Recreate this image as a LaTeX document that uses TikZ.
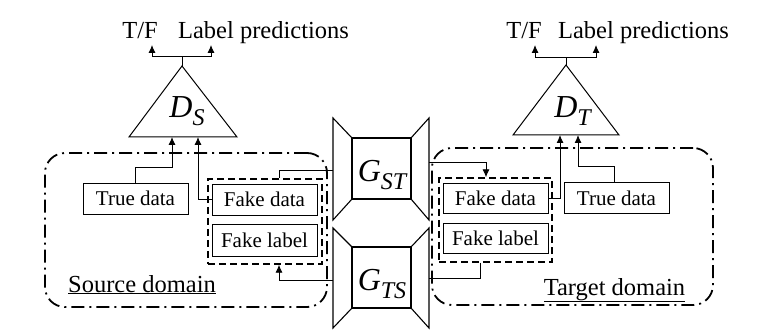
\documentclass[tikz,border=0pt]{standalone}
\usepackage{fontspec}
\setmainfont{Liberation Serif}
\usetikzlibrary{arrows.meta,calc}
\newcommand{\netlabel}[2]{{\fontsize{32}{32}\selectfont\itshape #1\raisebox{-8pt}{\fontsize{24}{24}\selectfont #2}}}
\begin{document}
\begin{tikzpicture}[x=1pt,y=-1pt,
  conn/.style={line width=0.9pt},
  arr/.style={conn,-{Latex[length=8pt,width=7pt]}},
  databox/.style={draw,line width=0.8pt,minimum width=105pt,minimum height=31pt,inner sep=0pt,font=\fontsize{21}{21}\selectfont},
  fakegroup/.style={draw,line width=1.4pt,dash pattern=on 7pt off 4pt,inner sep=0pt},
  domainbox/.style={draw,line width=1.8pt,dash pattern=on 13pt off 5pt on 2pt off 5pt,rounded corners=20pt,inner sep=0pt},
  lbl/.style={inner sep=0pt,anchor=base,font=\fontsize{24.5}{24.5}\selectfont},
  netshape/.style={line width=1.1pt},
  tri/.style={line width=1pt}
]
\useasboundingbox (0,0) rectangle (763,331);

% domains
\node[domainbox,minimum width=282pt,minimum height=154pt] (srcdom) at (186,230) {};
\node[domainbox,minimum width=281pt,minimum height=157pt] (tgtdom) at (572.5,226.5) {};
\node[lbl] (srclbl) at (142,292) {\underline{Source domain}};
\node[lbl] (tgtlbl) at (614.5,295) {\underline{Target domain}};

% discriminator D_S
\coordinate (dsapex) at (182,66);
\coordinate (dsbl) at (129,137);
\coordinate (dsbr) at (237,137);
\draw[tri] (dsbl) -- (dsapex) -- (dsbr) -- cycle;
\node[inner sep=0pt,anchor=base] (dsl) at (187,118) {\netlabel{D}{S}};
\coordinate (dsin1) at (172,137);
\coordinate (dsin2) at (198,137);
\coordinate (dsbar) at (182,56);
\coordinate (dsout1) at (152,45);
\coordinate (dsout2) at (211,45);
\node[lbl] (tfs) at (140,39) {T/F};
\node[lbl] (lps) at (263.5,39) {Label predictions};
\draw[conn] (dsapex) -- (dsbar);
\draw[arr] (dsbar) -| (dsout1);
\draw[arr] (dsbar) -| (dsout2);

% discriminator D_T
\coordinate (dtapex) at (566,65);
\coordinate (dtbl) at (513,135);
\coordinate (dtbr) at (619,135);
\draw[tri] (dtbl) -- (dtapex) -- (dtbr) -- cycle;
\node[inner sep=0pt,anchor=base] (dtl) at (572.5,118) {\netlabel{D}{T}};
\coordinate (dtin1) at (560,135);
\coordinate (dtin2) at (578,135);
\coordinate (dtbar) at (566,57);
\coordinate (dtout1) at (535,45);
\coordinate (dtout2) at (596,45);
\node[lbl] (tft) at (524,39) {T/F};
\node[lbl] (lpt) at (643.5,39) {Label predictions};
\draw[conn] (dtapex) -- (dtbar);
\draw[arr] (dtbar) -| (dtout1);
\draw[arr] (dtbar) -| (dtout2);

% generator G_ST
\draw[netshape] (333,118) -- (352,138) -- (352,199) -- (333,220) -- cycle;
\draw[netshape] (429,118) -- (411,138) -- (411,199) -- (429,220) -- cycle;
\node[draw,netshape,minimum width=59pt,minimum height=61pt,inner sep=0pt] (gst) at (381.5,168.5) {};
\node[inner sep=0pt,anchor=base] (gstl) at (382,182) {\netlabel{G}{ST}};
\coordinate (gstL) at (333,170);
\coordinate (gstR) at (429,162);

% generator G_TS
\draw[netshape] (333,228) -- (352,247) -- (352,308) -- (333,328) -- cycle;
\draw[netshape] (429,228) -- (411,247) -- (411,308) -- (429,328) -- cycle;
\node[draw,netshape,minimum width=59pt,minimum height=61pt,inner sep=0pt] (gts) at (381.5,277.5) {};
\node[inner sep=0pt,anchor=base] (gtsl) at (382,290) {\netlabel{G}{TS}};
\coordinate (gtsL) at (333,280);
\coordinate (gtsR) at (429,278);

% source domain boxes
\node[databox] (tds) at (135.5,198.5) {True data};
\node[fakegroup,minimum width=114pt,minimum height=85pt] (fbs) at (265,221.5) {};
\node[databox] (fds) at (264.5,199.5) {Fake data};
\node[databox,minimum height=32pt] (fls) at (264.5,240) {Fake label};

% target domain boxes
\node[databox] (tdt) at (616.5,198) {True data};
\node[fakegroup,minimum width=113pt,minimum height=84pt] (fbt) at (495.5,220) {};
\node[databox,minimum height=30pt] (fdt) at (495.5,198) {Fake data};
\node[databox,minimum height=30pt] (flt) at (495.5,238) {Fake label};

% connectors, source side
\draw[arr] (tds.north) -- ++(0,-15) -| (dsin1);
\draw[arr] (fds.west) -| (dsin2);
\draw[conn] (gstL) -| ($(fbs.north)+(14,0)$);
\draw[arr] (gtsL) -| ($(fbs.south)+(14,0)$);

% connectors, target side
\draw[arr] (gstR) -| ($(fbt.north)+(-9.5,0)$);
\draw[conn] ($(fbt.south)+(-15.5,0)$) |- (gtsR);
\draw[arr] (fdt.east) -| (dtin1);
\draw[arr] ($(tdt.north)+(-2.5,0)$) -- ++(0,-16) -| (dtin2);
\end{tikzpicture}
\end{document}
